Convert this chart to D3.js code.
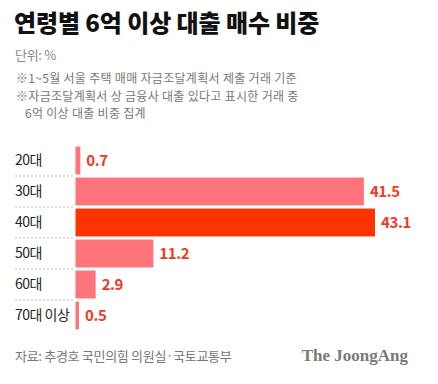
<!DOCTYPE html>
<html>
<head>
<meta charset="utf-8">
<script src="https://cdn.jsdelivr.net/npm/d3@7"></script>
<style>
  body { margin: 0; background: #fff; }
  svg text { font-family: "Noto Sans CJK KR", "Noto Sans", sans-serif; }
</style>
</head>
<body>
<svg id="chart"></svg>
<script>
// data
var ages = ["20대", "30대", "40대", "50대", "60대", "70대 이상"];
var shares = [0.7, 41.5, 43.1, 11.2, 2.9, 0.5];
var highlight = "40대";

var width = 438,
    height = 384;

var svg = d3.select("#chart")
    .attr("width", width)
    .attr("height", height);

// header
svg.append("text")
    .attr("x", 14).attr("y", 32)
    .attr("font-size", 24).attr("font-weight", 900)
    .attr("letter-spacing", -0.1)
    .attr("fill", "#111")
    .text("연령별 6억 이상 대출 매수 비중");

svg.append("text")
    .attr("x", 15).attr("y", 60)
    .attr("font-size", 13).attr("fill", "#888")
    .attr("letter-spacing", -0.3)
    .text("단위: %");

var notes = ["※1~5월 서울 주택 매매 자금조달계획서 제출 거래 기준",
             "※자금조달계획서 상 금융사 대출 있다고 표시한 거래 중",
             "   6억 이상 대출 비중 집계"];
svg.append("g").selectAll("text")
    .data(notes).enter()
    .append("text")
    .attr("x", 16)
    .attr("y", function(d, i) { return 83 + i * 17.5; })
    .attr("font-size", 12).attr("fill", "#777")
    .attr("letter-spacing", 0.3)
    .attr("xml:space", "preserve")
    .style("white-space", "pre")
    .text(function(d) { return d; });

// scales
var x = d3.scaleLinear().domain([0, 43.1]).range([75.5, 375]);
var y = d3.scaleBand().domain(ages).range([145, 331]).paddingInner(0.1).paddingOuter(0.05);

// dotted separators on the label side
var seps = ages.slice(1);
svg.append("g").selectAll("line")
    .data(seps).enter()
    .append("line")
    .attr("x1", 15).attr("x2", 75)
    .attr("y1", function(d) { return y(d) - y.step() * y.paddingInner() / 2; })
    .attr("y2", function(d) { return y(d) - y.step() * y.paddingInner() / 2; })
    .attr("stroke", "#bbb")
    .attr("stroke-width", 1)
    .attr("stroke-dasharray", "2,2");

var rows = svg.append("g").selectAll("g")
    .data(ages).enter()
    .append("g");

rows.append("rect")
    .attr("x", x(0))
    .attr("y", function(d) { return y(d); })
    .attr("width", function(d, i) { return x(shares[i]) - x(0); })
    .attr("height", y.bandwidth())
    .attr("fill", function(d) { return d == highlight ? "#ff3300" : "#ff737b"; });

rows.append("text")
    .attr("x", 15)
    .attr("y", function(d) { return y(d) + y.bandwidth() / 2; })
    .attr("dy", "0.35em")
    .attr("font-size", 14)
    .attr("letter-spacing", -0.5)
    .attr("fill", "#222")
    .text(function(d) { return d; });

rows.append("text")
    .attr("x", function(d, i) { return x(shares[i]) + 6; })
    .attr("y", function(d) { return y(d) + y.bandwidth() / 2; })
    .attr("dy", "0.36em")
    .attr("font-size", 15).attr("font-weight", 700)
    .attr("letter-spacing", -0.4)
    .attr("fill", "#f23a22")
    .text(function(d, i) { return shares[i]; });

// footer
svg.append("text")
    .attr("x", 15).attr("y", 361)
    .attr("font-size", 13).attr("fill", "#777")
    .attr("letter-spacing", -0.3)
    .text("자료: 추경호 국민의힘 의원실·국토교통부");

svg.append("text")
    .attr("x", 408).attr("y", 361)
    .attr("text-anchor", "end")
    .attr("font-size", 17).attr("font-weight", 700)
    .style("font-family", "'Liberation Serif', 'DejaVu Serif', serif")
    .attr("fill", "#7a7a7a")
    .text("The JoongAng");
</script>
</body>
</html>
